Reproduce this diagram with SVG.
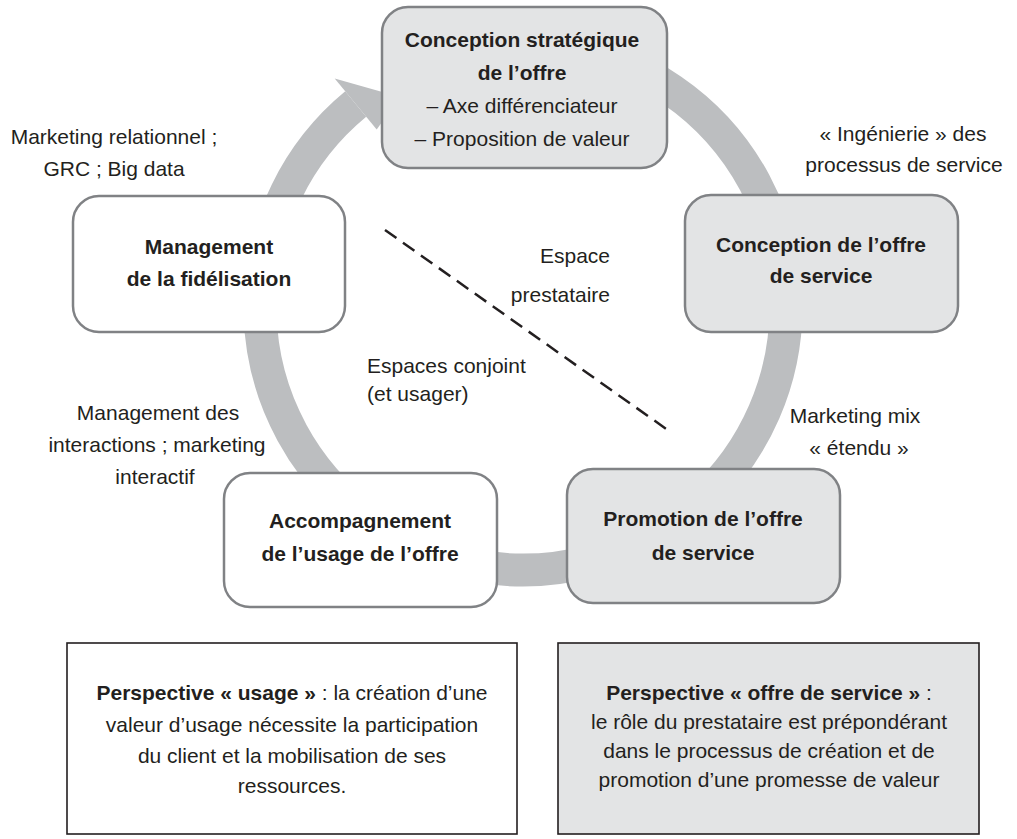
<svg xmlns="http://www.w3.org/2000/svg" width="1017" height="839" viewBox="0 0 1017 839">
<style>
text{font-family:"Liberation Sans",Arial,sans-serif;font-size:21px;fill:#231f20}
.b{font-weight:bold}
.m{text-anchor:middle}
.node{stroke:#808285;stroke-width:2.5}
.g{fill:#e3e4e5}
.w{fill:#ffffff}
.ring{fill:none;stroke:#bcbec0;stroke-width:33;stroke-linecap:butt}
.persp{stroke:#231f20;stroke-width:1.6}
</style>
<rect width="1017" height="839" fill="#ffffff"/>
<g id="connectors">
<path class="ring" d="M568.67,48 A263,263 0 1 1 355.71,104.06"/>
<polygon points="334.7,78.6 400,97 376.7,129.5" fill="#bcbec0"/>
<line x1="385" y1="230" x2="672" y2="433" stroke="#231f20" stroke-width="2.5" stroke-dasharray="14 8"/>
</g>
<g id="node-strategique">
<rect class="node g" x="382" y="7" width="285" height="161" rx="26"/>
<text class="m b" x="522" y="47">Conception stratégique</text>
<text class="m b" x="522" y="80">de l’offre</text>
<text class="m" x="522" y="113">– Axe différenciateur</text>
<text class="m" x="522" y="146">– Proposition de valeur</text>
</g>
<g id="node-conception">
<rect class="node g" x="685" y="195" width="273" height="137" rx="26"/>
<text class="m b" x="821" y="252">Conception de l’offre</text>
<text class="m b" x="821" y="283">de service</text>
</g>
<g id="node-promotion">
<rect class="node g" x="567" y="469" width="273" height="134" rx="26"/>
<text class="m b" x="703" y="526">Promotion de l’offre</text>
<text class="m b" x="703" y="560">de service</text>
</g>
<g id="node-accompagnement">
<rect class="node w" x="224" y="473" width="273" height="134" rx="26"/>
<text class="m b" x="360" y="528">Accompagnement</text>
<text class="m b" x="360" y="561">de l’usage de l’offre</text>
</g>
<g id="node-fidelisation">
<rect class="node w" x="73" y="196" width="272" height="136" rx="26"/>
<text class="m b" x="209" y="254">Management</text>
<text class="m b" x="209" y="286">de la fidélisation</text>
</g>
<g id="labels">
<text class="m" x="114" y="144">Marketing relationnel ;</text>
<text class="m" x="114" y="176">GRC ; Big data</text>
<text class="m" x="903" y="141">« Ingénierie » des</text>
<text class="m" x="904" y="172">processus de service</text>
<text x="610" y="263" text-anchor="end">Espace</text>
<text x="610" y="302" text-anchor="end">prestataire</text>
<text x="367" y="373">Espaces conjoint</text>
<text x="367" y="401">(et usager)</text>
<text class="m" x="158" y="420">Management des</text>
<text class="m" x="157" y="452">interactions ; marketing</text>
<text class="m" x="155" y="484">interactif</text>
<text class="m" x="855" y="423">Marketing mix</text>
<text class="m" x="859" y="455">« étendu »</text>
</g>
<g id="node-usage">
<rect class="persp" x="67" y="643" width="450" height="191" fill="#ffffff"/>
<text class="m" x="292" y="700"><tspan class="b">Perspective « usage »</tspan> : la création d’une</text>
<text class="m" x="292" y="732">valeur d’usage nécessite la participation</text>
<text class="m" x="292" y="763">du client et la mobilisation de ses</text>
<text class="m" x="292" y="793">ressources.</text>
</g>
<g id="node-offre">
<rect class="persp" x="558" y="643" width="421" height="191" fill="#e3e4e5"/>
<text class="m" x="769" y="700"><tspan class="b">Perspective « offre de service »</tspan> :</text>
<text class="m" x="769" y="729">le rôle du prestataire est prépondérant</text>
<text class="m" x="769" y="758">dans le processus de création et de</text>
<text class="m" x="769" y="787">promotion d’une promesse de valeur</text>
</g>
</svg>
